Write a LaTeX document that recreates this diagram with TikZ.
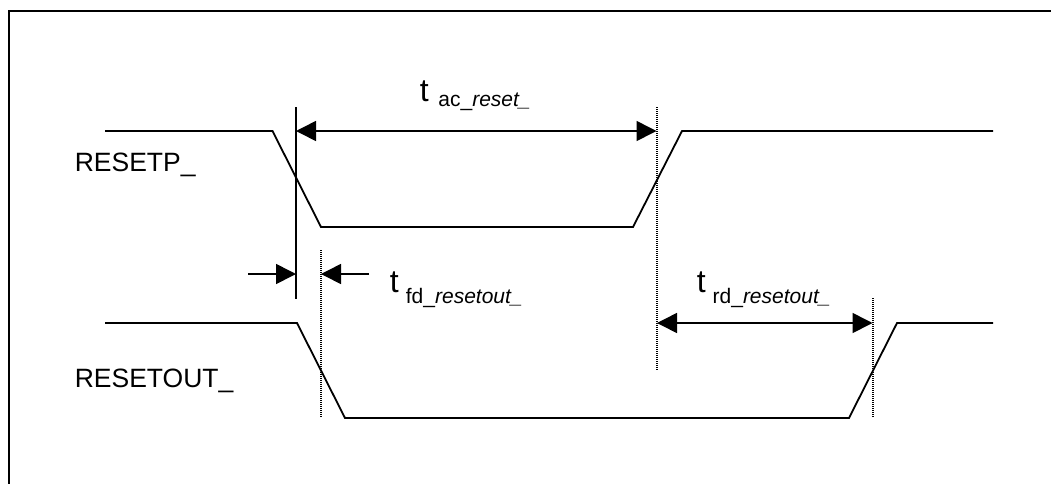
\documentclass[tikz,border=0pt]{standalone}
\usepackage{fontspec}
\setmainfont{Liberation Sans}
\usetikzlibrary{arrows.meta}
\tikzset{
  wave/.style={line width=1.8pt, line join=miter},
  frameline/.style={line width=1.8pt},
  marker/.style={line width=1.6pt},
  dotmarker/.style={line width=1.3pt, dash pattern=on 1pt off 1pt},
  dim/.style={line width=1.6pt, -{Triangle[length=20pt,width=20pt]}},
  dimboth/.style={line width=1.6pt, {Triangle[length=20pt,width=20pt]}-{Triangle[length=20pt,width=20pt]}},
  siglabel/.style={anchor=base west, inner sep=0pt, font=\fontsize{26.5}{30}\selectfont},
  tlabel/.style={anchor=base west, inner sep=0pt, font=\fontsize{32}{36}\selectfont},
}
\newcommand{\subtxt}[2]{\raisebox{-#1}{\fontsize{21}{24}\selectfont #2}}
\begin{document}
\begin{tikzpicture}[x=1pt,y=-1pt]
  \useasboundingbox (0,0) rectangle (1051,483);
  \clip (0,0) rectangle (1051,483);
  % frame
  \draw[frameline] (9,11) rectangle (1070,500);

  % signal labels
  \node[siglabel] (lp) at (74.6,171.7) {RESETP\_};
  \node[siglabel] (lo) at (74.6,387.3) {RESETOUT\_};

  % RESETP_ waveform
  \coordinate (p0) at (105,131);
  \coordinate (p1) at (272.5,131);
  \coordinate (p2) at (321,227);
  \coordinate (p3) at (633,227);
  \coordinate (p4) at (682,131);
  \coordinate (p5) at (993,131);
  \draw[wave] (p0) -- (p1) -- (p2) -- (p3) -- (p4) -- (p5);

  % RESETOUT_ waveform
  \coordinate (o0) at (105,323);
  \coordinate (o1) at (297,323);
  \coordinate (o2) at (345,418);
  \coordinate (o3) at (849,418);
  \coordinate (o4) at (897,323);
  \coordinate (o5) at (993,323);
  \draw[wave] (o0) -- (o1) -- (o2) -- (o3) -- (o4) -- (o5);

  % reference markers
  \coordinate (sA) at (296,107);
  \coordinate (sB) at (296,299);
  \draw[marker] (sA) -- (sB);
  \coordinate (dA) at (657,107);
  \coordinate (dB) at (657,371);
  \draw[dotmarker] (dA) -- (dB);
  \coordinate (eA) at (321,250);
  \coordinate (eB) at (321,418);
  \draw[dotmarker] (eA) -- (eB);
  \coordinate (fA) at (873,298);
  \coordinate (fB) at (873,418);
  \draw[dotmarker] (fA) -- (fB);

  % t_ac_reset_
  \coordinate (ac1) at (296,131);
  \coordinate (ac2) at (656.5,131);
  \draw[dimboth] (ac1) -- (ac2);
  \node[tlabel] (tac) at (419.55,101.5) {t\hspace{9.8pt}\subtxt{4.5pt}{ac\_\textit{reset\_}}};

  % t_fd_resetout_
  \coordinate (fd1s) at (248,274);
  \coordinate (fd1e) at (296,274);
  \coordinate (fd2s) at (369,274);
  \coordinate (fd2e) at (321,274);
  \draw[dim] (fd1s) -- (fd1e);
  \draw[dim] (fd2s) -- (fd2e);
  \node[tlabel] (tfd) at (389.55,292.5) {t\hspace{7.25pt}\subtxt{10.5pt}{fd\_\textit{resetout\_}}};

  % t_rd_resetout_
  \coordinate (rd1) at (657,323);
  \coordinate (rd2) at (872.5,323);
  \draw[dimboth] (rd1) -- (rd2);
  \node[tlabel] (trd) at (696.55,292.5) {t\hspace{7pt}\subtxt{10.5pt}{rd\_\textit{resetout\_}}};
\end{tikzpicture}
\end{document}
